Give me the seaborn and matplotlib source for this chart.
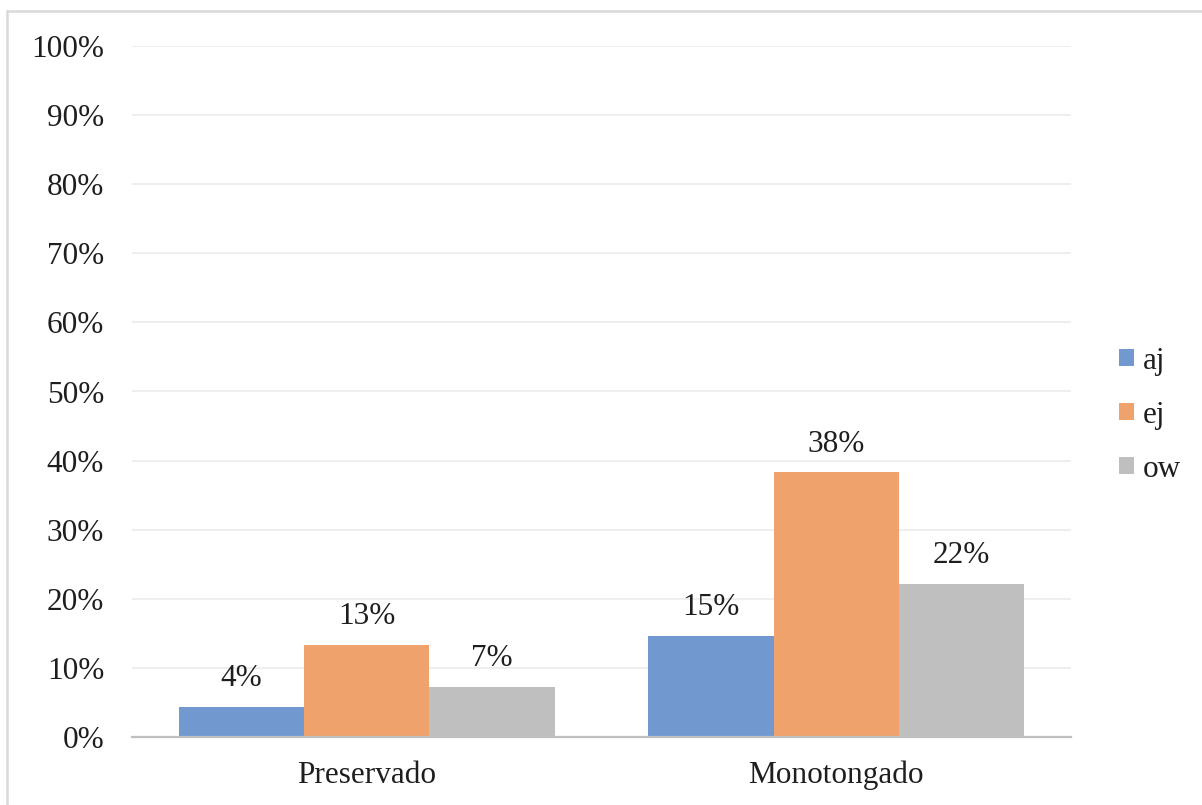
import matplotlib
matplotlib.use("Agg")
import matplotlib.pyplot as plt
from matplotlib.lines import Line2D
import seaborn as sns
import pandas as pd

# Share of each diphthong by outcome (%)
categories = ["Preservado", "Monotongado"]
series_names = ["aj", "ej", "ow"]
aj_values = [4.4, 14.6]
ej_values = [13.3, 38.3]
ow_values = [7.3, 22.1]
y_ticks = [0, 10, 20, 30, 40, 50, 60, 70, 80, 90, 100]
y_tick_labels = [f"{t}%" for t in y_ticks]

colors = ["#7298D0", "#EFA26B", "#BFBFBF"]
text_color = "#1E1E1E"

df = pd.DataFrame({
    "categoria": categories * 3,
    "serie": [s for s in series_names for _ in categories],
    "valor": aj_values + ej_values + ow_values,
})

sns.set_theme(style="white")
plt.rcParams["font.family"] = ["Liberation Serif", "DejaVu Serif"]
fs = 22.5

fig = plt.figure(figsize=(12.02, 8.05), dpi=100)
ax = fig.add_axes([132 / 1202, 1 - 737 / 805, (1071 - 132) / 1202, (737 - 46) / 805])

sns.barplot(data=df, x="categoria", y="valor", hue="serie", order=categories,
            hue_order=series_names, palette=colors, width=0.8, gap=0,
            linewidth=0, saturation=1, ax=ax, legend=True)

ax.set_ylim(0, 100)
ax.set_xlim(-0.5, 1.5)
ax.set_yticks(y_ticks)
ax.set_yticklabels(y_tick_labels)
ax.set_xlabel("")
ax.set_ylabel("")
ax.yaxis.grid(True, color="#EDEDED", linewidth=1.3)
ax.set_axisbelow(True)
for side in ["left", "right", "top"]:
    ax.spines[side].set_visible(False)
ax.spines["bottom"].set_color("#BFBFBF")
ax.spines["bottom"].set_linewidth(1.6)
ax.tick_params(axis="y", length=0, pad=20, labelsize=fs, labelcolor=text_color)
ax.tick_params(axis="x", length=0, pad=17, labelsize=fs, labelcolor=text_color)

# Value labels above each bar
for container in ax.containers:
    for bar in container:
        h = bar.get_height()
        ax.annotate(f"{h:.0f}%", (bar.get_x() + bar.get_width() / 2, h),
                    xytext=(0, 15), textcoords="offset points",
                    ha="center", va="baseline", fontsize=fs, color=text_color)

handles, labels = ax.get_legend_handles_labels()
ax.legend(handles, labels, loc="center left",
          bbox_to_anchor=(1119 / 1202, 1 - 415 / 805), bbox_transform=fig.transFigure,
          frameon=False, fontsize=fs, labelcolor=text_color,
          handlelength=0.48, handleheight=0.48, handletextpad=0.28,
          labelspacing=0.80, borderpad=0, borderaxespad=0)

# Light frame along the top and left edges
fig.add_artist(Line2D([7 / 1202, 1.0], [1 - 11 / 805, 1 - 11 / 805],
                      transform=fig.transFigure, color="#D9D9D9", linewidth=1.8))
fig.add_artist(Line2D([7 / 1202, 7 / 1202], [0.0, 1 - 11 / 805],
                      transform=fig.transFigure, color="#D9D9D9", linewidth=1.8))

fig.savefig("out.png", dpi=100, facecolor="white")
